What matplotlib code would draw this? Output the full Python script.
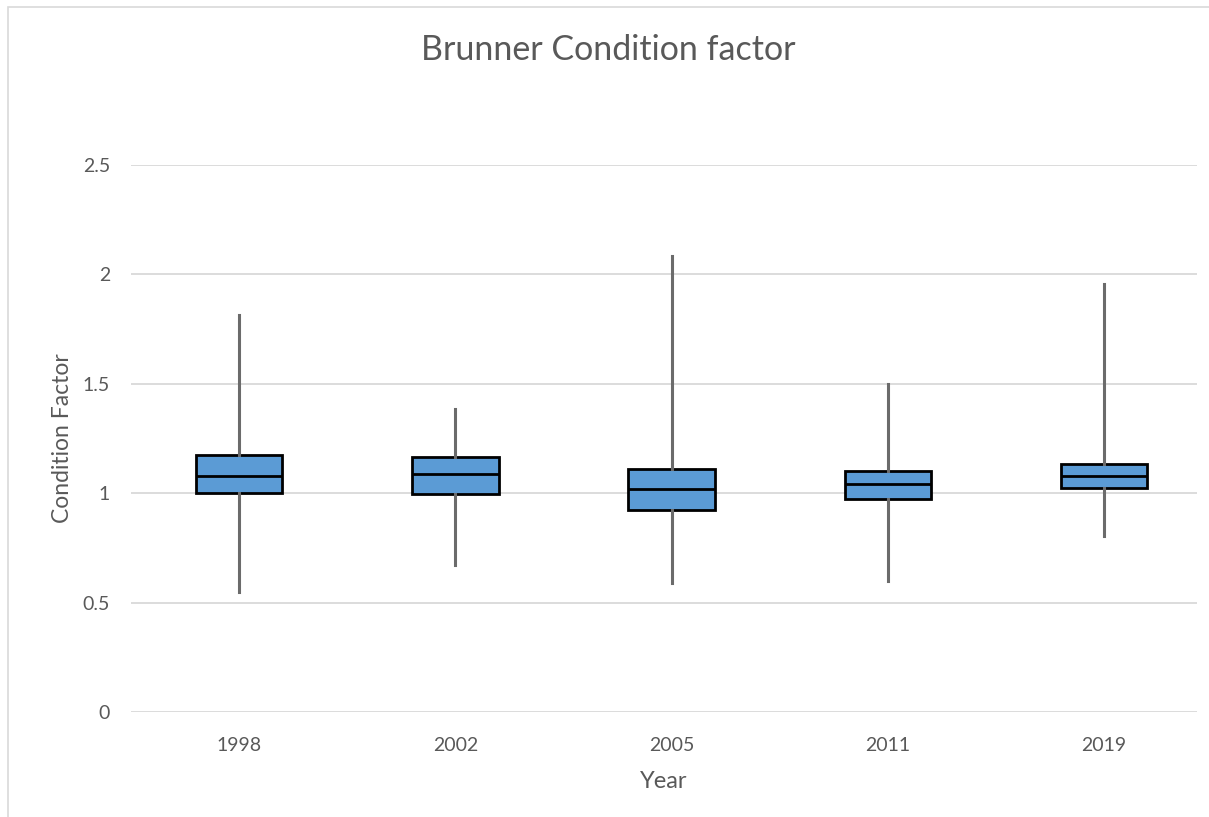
import matplotlib.pyplot as plt
from matplotlib.patches import Rectangle

# box plot stats
years = ['1998', '2002', '2005', '2011', '2019']
whisk_lo = [0.55, 0.67, 0.59, 0.60, 0.805]
q1 = [1.00, 0.995, 0.925, 0.975, 1.025]
med = [1.08, 1.09, 1.02, 1.04, 1.08]
q3 = [1.175, 1.165, 1.11, 1.10, 1.135]
whisk_hi = [1.815, 1.385, 2.085, 1.50, 1.955]
yticks = [0, 0.5, 1, 1.5, 2, 2.5]

plt.rcParams['font.family'] = ['Lato', 'DejaVu Sans']
txt = '#595959'

fig = plt.figure(figsize=(12.09, 8.17), dpi=100)
ax = fig.add_axes([131/1209, 1 - 712/817, (1197-131)/1209, (712-165)/817])

stats = []
for i in range(len(years)):
    stats.append({'label': years[i], 'whislo': whisk_lo[i], 'q1': q1[i],
                  'med': med[i], 'q3': q3[i], 'whishi': whisk_hi[i], 'fliers': []})

ax.bxp(stats, positions=range(len(years)), widths=0.40, showcaps=False,
       showfliers=False, patch_artist=True,
       boxprops=dict(facecolor='#5B9BD5', edgecolor='black', linewidth=2),
       medianprops=dict(color='black', linewidth=2),
       whiskerprops=dict(color='#6b6b6b', linewidth=2.2))

# the plot area runs a bit past the right edge of the picture
ax.set_xlim(-0.5, 4.43)
ax.set_ylim(0, 2.5)
ax.set_yticks(yticks)
ax.set_yticklabels(['0', '0.5', '1', '1.5', '2', '2.5'])
ax.grid(axis='y', color='#d9d9d9', linewidth=1.3)
ax.set_axisbelow(True)
for s in ax.spines.values():
    s.set_visible(False)
ax.tick_params(length=0, labelsize=14, labelcolor=txt)
ax.tick_params(axis='y', pad=15)
ax.tick_params(axis='x', pad=18)

ax.set_xlabel('Year', fontsize=17, color=txt, labelpad=12)
ax.set_ylabel('Condition Factor', fontsize=16.5, color=txt, labelpad=7)
fig.text(0.503, 1 - 50/817, 'Brunner Condition factor', ha='center', va='center',
         fontsize=24.5, color=txt)

# chart frame
fig.patches.append(Rectangle((8/1209, -0.1), 1.2, 1 - 7/817 + 0.1,
                             transform=fig.transFigure, fill=False,
                             edgecolor='#d9d9d9', linewidth=1.2))

fig.savefig('out.png', dpi=100)
